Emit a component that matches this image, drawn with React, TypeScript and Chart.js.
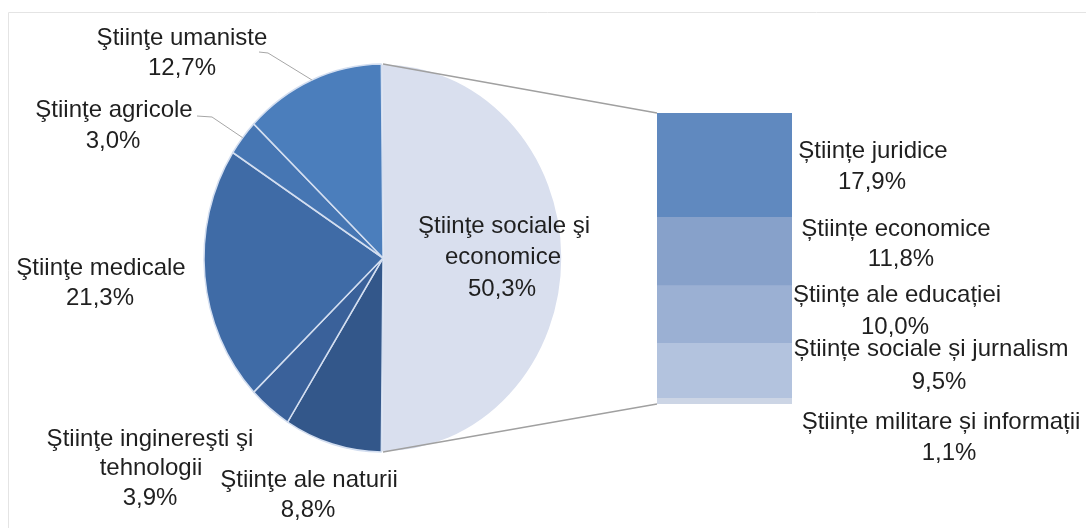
import { useEffect, useRef } from "react";
import { Chart, registerables } from "chart.js";

Chart.register(...registerables);

// ---- Data ----
const pieCategories = [
  "Ştiinţe sociale şi economice",
  "Ştiinţe ale naturii",
  "Ştiinţe inginereşti şi tehnologii",
  "Ştiinţe medicale",
  "Ştiinţe agricole",
  "Ştiinţe umaniste",
];
const pieValues = [50.3, 8.8, 3.9, 21.3, 3.0, 12.7];
const pieColors = ["#d9dfee", "#33578a", "#3a619a", "#3f6ba6", "#4676b3", "#4b7ebc"];
const pieBorders = ["#ffffff", "#d3def0", "#d3def0", "#d3def0", "#d3def0", "#d3def0"];

const barCategories = [
  "Științe juridice",
  "Științe economice",
  "Științe ale educației",
  "Științe sociale și jurnalism",
  "Științe militare și informații",
];
const barValues = [17.9, 11.8, 10.0, 9.5, 1.1];
const barColors = ["#6089bf", "#87a1ca", "#9bb0d3", "#b3c3de", "#ccd5e5"];

// ---- Layout (label placement) ----
const pieLabelLayout = [
  { lines: ["Ştiinţe sociale şi", "economice"], x: [504, 503, 502], y: [233, 264, 296], leader: null },
  { lines: ["Ştiinţe ale naturii"], x: [309, 308], y: [487, 517], leader: null },
  { lines: ["Ştiinţe inginereşti şi", "tehnologii"], x: [150, 151, 150], y: [446, 475, 505], leader: null },
  { lines: ["Ştiinţe medicale"], x: [101, 100], y: [275, 305], leader: null },
  { lines: ["Ştiinţe agricole"], x: [114, 113], y: [117, 148], leader: [197, 116, 212, 117] },
  { lines: ["Ştiinţe umaniste"], x: [182, 182], y: [45, 75], leader: [259, 52, 268, 53] },
];
const barLabelLayout = [
  { x: [873, 872], y: [158, 189] },
  { x: [896, 901], y: [236, 266] },
  { x: [897, 895], y: [302, 334] },
  { x: [931, 939], y: [356, 389] },
  { x: [941, 949], y: [429, 460] },
];

const W = 1086;
const H = 528;
const PIE_RADIUS = 179;
const PIE_SY = 194 / 179;
const FONT = '24px "Liberation Sans", Arial, sans-serif';
const TEXT = "#1f1f1f";

const fmt = (v: number) => v.toFixed(1).replace(".", ",") + "%";
const total = (a: number[]) => a.reduce((s, v) => s + v, 0);

export default function App() {
  const pieRef = useRef<HTMLCanvasElement>(null);
  const barRef = useRef<HTMLCanvasElement>(null);

  useEffect(() => {
    if (!pieRef.current || !barRef.current) return;

    const rotation = -(pieValues[0] / total(pieValues) * 360 - 180) / 2;

    const piePlugin = {
      id: "pieDecor",
      beforeDraw(chart: any) {
        const ctx = chart.ctx;
        ctx.save();
        ctx.strokeStyle = "#e4e4e4";
        ctx.lineWidth = 1;
        ctx.beginPath();
        ctx.moveTo(8.5, H);
        ctx.lineTo(8.5, 12.5);
        ctx.lineTo(W, 12.5);
        ctx.stroke();
        ctx.restore();
      },
      beforeDatasetsDraw(chart: any) {
        const a = chart.getDatasetMeta(0).data[0];
        const ctx = chart.ctx;
        ctx.save();
        ctx.translate(a.x, a.y);
        ctx.scale(1, PIE_SY);
        ctx.translate(-a.x, -a.y);
      },
      afterDatasetsDraw(chart: any) {
        chart.ctx.restore();
      },
      afterDraw(chart: any) {
        const ctx = chart.ctx;
        const arcs = chart.getDatasetMeta(0).data;
        ctx.save();
        // leader lines
        ctx.strokeStyle = "#a6a6a6";
        ctx.lineWidth = 1;
        pieLabelLayout.forEach((lay, i) => {
          if (!lay.leader) return;
          const a = arcs[i];
          const mid = (a.startAngle + a.endAngle) / 2;
          const px = a.x + Math.cos(mid) * a.outerRadius;
          const py = a.y + Math.sin(mid) * a.outerRadius * PIE_SY;
          ctx.beginPath();
          ctx.moveTo(lay.leader[0], lay.leader[1]);
          ctx.lineTo(lay.leader[2], lay.leader[3]);
          ctx.lineTo(px, py);
          ctx.stroke();
        });
        // labels
        ctx.font = FONT;
        ctx.fillStyle = TEXT;
        ctx.textAlign = "center";
        ctx.textBaseline = "alphabetic";
        pieLabelLayout.forEach((lay, i) => {
          const lines = [...lay.lines, fmt(pieValues[i])];
          lines.forEach((t, j) => ctx.fillText(t, lay.x[j], lay.y[j]));
        });
        ctx.restore();
      },
    };

    const pieChart = new Chart(pieRef.current, {
      type: "pie",
      data: {
        labels: pieCategories,
        datasets: [
          {
            data: pieValues,
            backgroundColor: pieColors,
            borderColor: pieBorders,
            borderWidth: 1.5,
          },
        ],
      },
      options: {
        responsive: false,
        animation: false,
        devicePixelRatio: 1,
        radius: PIE_RADIUS,
        rotation,
        layout: { padding: { left: 0, top: 0, right: W - 766, bottom: H - 516 } },
        plugins: { legend: { display: false }, tooltip: { enabled: false } },
        events: [],
      } as any,
      plugins: [piePlugin as any],
    });

    const barPlugin = {
      id: "barDecor",
      afterDraw(chart: any) {
        const ctx = chart.ctx;
        let top = Infinity, bottom = -Infinity, left = Infinity;
        chart.data.datasets.forEach((_: any, di: number) => {
          const el = chart.getDatasetMeta(di).data[0];
          top = Math.min(top, el.y, el.base);
          bottom = Math.max(bottom, el.y, el.base);
          left = Math.min(left, el.x - el.width / 2);
        });
        const a = pieChart.getDatasetMeta(0).data[0] as any;
        const r = a.outerRadius * PIE_SY;
        ctx.save();
        ctx.strokeStyle = "#a0a0a0";
        ctx.lineWidth = 1.3;
        ctx.beginPath();
        ctx.moveTo(a.x, a.y - r);
        ctx.lineTo(left, top);
        ctx.moveTo(a.x, a.y + r);
        ctx.lineTo(left, bottom);
        ctx.stroke();

        ctx.font = FONT;
        ctx.fillStyle = TEXT;
        ctx.textAlign = "center";
        ctx.textBaseline = "alphabetic";
        barLabelLayout.forEach((lay, i) => {
          ctx.fillText(barCategories[i], lay.x[0], lay.y[0]);
          ctx.fillText(fmt(barValues[i]), lay.x[1], lay.y[1]);
        });
        ctx.restore();
      },
    };

    const barChart = new Chart(barRef.current, {
      type: "bar",
      data: {
        labels: ["Științe sociale și economice"],
        datasets: barCategories.map((c, i) => ({
          label: c,
          data: [barValues[i]],
          backgroundColor: barColors[i],
          borderWidth: 0,
          barPercentage: 1,
          categoryPercentage: 1,
        })),
      },
      options: {
        responsive: false,
        animation: false,
        devicePixelRatio: 1,
        layout: { padding: { left: 657, right: W - 792, top: 113, bottom: H - 404 } },
        scales: {
          x: { display: false, stacked: true },
          y: { display: false, stacked: true, reverse: true, min: 0, max: total(barValues) },
        },
        plugins: { legend: { display: false }, tooltip: { enabled: false } },
        events: [],
      } as any,
      plugins: [barPlugin as any],
    });

    return () => {
      barChart.destroy();
      pieChart.destroy();
    };
  }, []);

  const cs: any = { position: "absolute", left: 0, top: 0, width: W, height: H };
  return (
    <div style={{ position: "fixed", left: 0, top: 0, width: W, height: H, background: "#fff" }}>
      <canvas ref={pieRef} width={W} height={H} style={cs} />
      <canvas ref={barRef} width={W} height={H} style={cs} />
    </div>
  );
}
